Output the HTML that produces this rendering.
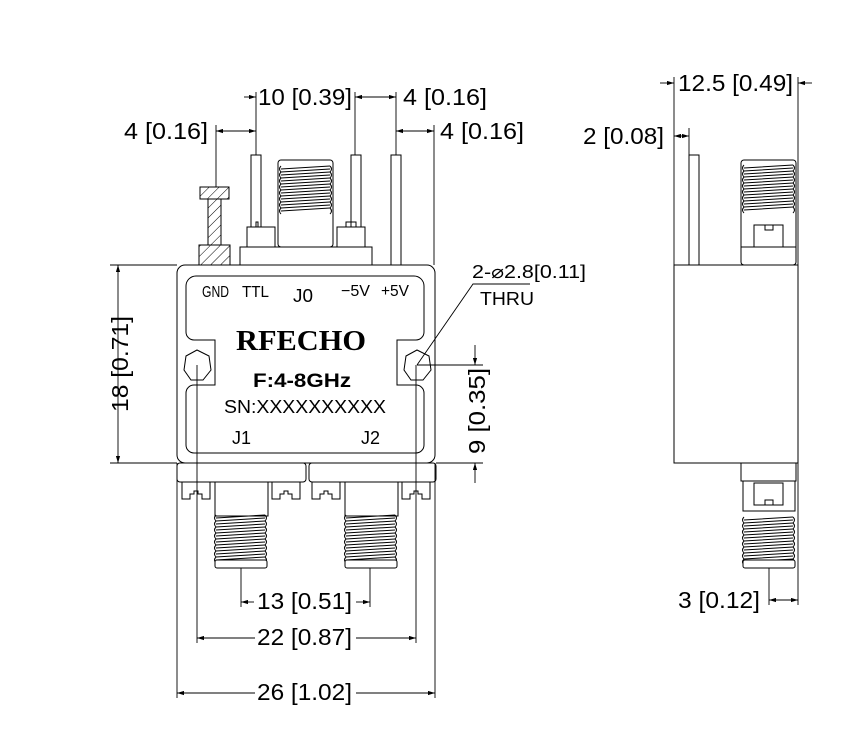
<!DOCTYPE html>
<html><head><meta charset="utf-8"><style>
html,body{margin:0;padding:0;background:#fff;}
svg{display:block;}
</style></head><body>
<svg width="868" height="753" viewBox="0 0 868 753" xmlns="http://www.w3.org/2000/svg" font-family="Liberation Sans, sans-serif">
<defs>
<pattern id="h" width="7" height="7" patternUnits="userSpaceOnUse" patternTransform="rotate(45)">
<line x1="0" y1="0" x2="0" y2="7" stroke="#000" stroke-width="1"/>
</pattern>
<marker id="a" viewBox="0 0 10 6" refX="10" refY="3" markerWidth="8" markerHeight="5" orient="auto-start-reverse"><path d="M0,0L10,3L0,6z" fill="#000"/></marker>
<g id="thr" fill="none" stroke="#000" stroke-width="1">
<path d="M3,5 L52,2 M3,8 L52,5 M3,11 L52,8 M3,14 L52,11 M3,17 L52,14 M3,20 L52,17 M3,23 L52,20 M3,26 L52,23 M3,29 L52,26 M3,32 L52,29 M3,35 L52,32 M3,38 L52,35 M3,41 L52,38 M3,44 L52,41 M3,47 L52,44"/>
<path d="M3,2 q-3,3 0,6 q-3,3 0,6 q-3,3 0,6 q-3,3 0,6 q-3,3 0,6 q-3,3 0,6 q-3,3 0,6 q-3,3 0,6"/>
<path d="M52,2 q3,3 0,6 q3,3 0,6 q3,3 0,6 q3,3 0,6 q3,3 0,6 q3,3 0,6 q3,3 0,6 q3,3 0,6"/>
</g>
<g id="clip" fill="#fff" stroke="#000" stroke-width="1">
<path d="M0,0 h28 v17 h-8 v-5 h-4 v-3 h-4 v3 h-4 v5 h-8 z"/>
</g>
</defs>

<g fill="none" stroke="#000" stroke-width="1">
<rect x="200" y="187" width="29" height="12" fill="url(#h)"/>
<rect x="208" y="199" width="13" height="46" fill="url(#h)"/>
<rect x="199" y="245" width="31" height="20" fill="url(#h)"/>
<rect x="251" y="155" width="10" height="72" fill="#fff"/>
<rect x="351" y="155" width="10" height="72" fill="#fff"/>
<rect x="391" y="155" width="10" height="110" fill="#fff"/>
<rect x="240" y="247" width="132" height="18" fill="#fff"/>
<rect x="247" y="227" width="28" height="20" fill="#fff"/>
<path d="M256,227 v-5 h2 v5"/>
<rect x="337" y="227" width="28" height="20" fill="#fff"/>
<path d="M346,227 v-5 h10 v5"/>
<rect x="278" y="160" width="55" height="87" rx="3" fill="#fff"/>
<use href="#thr" x="278" y="164"/>

<rect x="177" y="265" width="258" height="198" rx="8" fill="#fff"/>
<path d="M196,276 H414 a10,10 0 0 1 10,10 V332 a8,8 0 0 1 -8,8 H397 V385 H416 a8,8 0 0 1 8,8 V445 a8,8 0 0 1 -8,8 H194 a8,8 0 0 1 -8,-8 V393 a8,8 0 0 1 8,-8 H215 V340 H194 a8,8 0 0 1 -8,-8 V286 a10,10 0 0 1 10,-10 z"/>
<polygon points="197,350 209,356 211,370 203,380 191,380 184,370 186,356"/>
<polygon points="417,350 429,356 431,370 423,380 411,380 404,370 406,356"/>

<rect x="177" y="463" width="129" height="19" rx="3"/>
<rect x="309" y="463" width="127" height="19" rx="3"/>
<use href="#clip" x="182" y="482"/>
<use href="#clip" x="272" y="482"/>
<use href="#clip" x="312" y="482"/>
<use href="#clip" x="402" y="482"/>
<rect x="215" y="482" width="53" height="34"/>
<rect x="345" y="482" width="53" height="34"/>
<use href="#thr" x="213" y="513"/>
<use href="#thr" x="343" y="513"/>
<rect x="215" y="560" width="52" height="8" rx="2" fill="#fff"/>
<rect x="345" y="560" width="52" height="8" rx="2" fill="#fff"/>

<rect x="689" y="155" width="10" height="110"/>
<rect x="741" y="160" width="55" height="105" rx="3" fill="#fff"/>
<use href="#thr" x="741" y="163"/>
<line x1="741" y1="247" x2="796" y2="247"/>
<rect x="754" y="225" width="29" height="22"/>
<path d="M765,225 v5 h8 v-5"/>
<rect x="674" y="265" width="124" height="198" fill="#fff"/>
<rect x="741" y="463" width="55" height="18"/>
<rect x="743" y="481" width="52" height="30"/>
<rect x="754" y="483" width="29" height="22"/>
<path d="M765,505 v-5 h8 v5"/>
<use href="#thr" x="741" y="515"/>
<rect x="743" y="560" width="52" height="8" rx="2" fill="#fff"/>

<g stroke-width="0.9">
<line x1="216" y1="125" x2="216" y2="187"/>
<line x1="256" y1="92" x2="256" y2="155"/>
<line x1="355" y1="92" x2="355" y2="155"/>
<line x1="396" y1="92" x2="396" y2="155"/>
<line x1="434" y1="125" x2="434" y2="265"/>
<line x1="244" y1="97" x2="256" y2="97" marker-end="url(#a)"/>
<line x1="355" y1="97" x2="396" y2="97" marker-start="url(#a)" marker-end="url(#a)"/>
<line x1="216" y1="131" x2="256" y2="131" marker-start="url(#a)" marker-end="url(#a)"/>
<line x1="396" y1="131" x2="434" y2="131" marker-start="url(#a)" marker-end="url(#a)"/>
<line x1="110" y1="265" x2="177" y2="265"/>
<line x1="110" y1="463" x2="177" y2="463"/>
<line x1="118" y1="265" x2="118" y2="463" marker-start="url(#a)" marker-end="url(#a)"/>
<line x1="417" y1="365" x2="483" y2="365"/>
<line x1="436" y1="463" x2="483" y2="463"/>
<line x1="475" y1="345" x2="475" y2="365" marker-end="url(#a)"/>
<line x1="475" y1="483" x2="475" y2="463" marker-end="url(#a)"/>
<polyline points="417,365 473,284 530,284"/>
<line x1="241" y1="568" x2="241" y2="607"/>
<line x1="370" y1="568" x2="370" y2="607"/>
<line x1="197" y1="365" x2="197" y2="643"/>
<line x1="416" y1="365" x2="416" y2="643"/>
<line x1="177" y1="463" x2="177" y2="698"/>
<line x1="435" y1="463" x2="435" y2="698"/>
<line x1="241" y1="602" x2="254" y2="602" marker-start="url(#a)"/>
<line x1="356" y1="602" x2="370" y2="602" marker-end="url(#a)"/>
<line x1="197" y1="638" x2="255" y2="638" marker-start="url(#a)"/>
<line x1="356" y1="638" x2="416" y2="638" marker-end="url(#a)"/>
<line x1="177" y1="693" x2="255" y2="693" marker-start="url(#a)"/>
<line x1="356" y1="693" x2="435" y2="693" marker-end="url(#a)"/>
<line x1="674" y1="77" x2="674" y2="265"/>
<line x1="798" y1="77" x2="798" y2="265"/>
<line x1="689" y1="128" x2="689" y2="155"/>
<line x1="660" y1="83" x2="674" y2="83" marker-end="url(#a)"/>
<line x1="812" y1="83" x2="798" y2="83" marker-end="url(#a)"/>
<line x1="674" y1="136" x2="689" y2="136" marker-start="url(#a)" marker-end="url(#a)"/>
<line x1="798" y1="463" x2="798" y2="605"/>
<line x1="769" y1="568" x2="769" y2="605"/>
<line x1="769" y1="600" x2="798" y2="600" marker-start="url(#a)" marker-end="url(#a)"/>
</g>
</g>

<g font-size="23" fill="#000">
<text x="258" y="105" textLength="94" lengthAdjust="spacingAndGlyphs">10 [0.39]</text>
<text x="403" y="105" textLength="84" lengthAdjust="spacingAndGlyphs">4 [0.16]</text>
<text x="124" y="139" textLength="84" lengthAdjust="spacingAndGlyphs">4 [0.16]</text>
<text x="440" y="139" textLength="84" lengthAdjust="spacingAndGlyphs">4 [0.16]</text>
<text x="257" y="609" textLength="95" lengthAdjust="spacingAndGlyphs">13 [0.51]</text>
<text x="257" y="645" textLength="95" lengthAdjust="spacingAndGlyphs">22 [0.87]</text>
<text x="257" y="700" textLength="95" lengthAdjust="spacingAndGlyphs">26 [1.02]</text>
<text x="678" y="91" textLength="115" lengthAdjust="spacingAndGlyphs">12.5 [0.49]</text>
<text x="583" y="144" textLength="81" lengthAdjust="spacingAndGlyphs">2 [0.08]</text>
<text x="678" y="608" textLength="82" lengthAdjust="spacingAndGlyphs">3 [0.12]</text>
<text transform="translate(128,364) rotate(-90)" text-anchor="middle" textLength="96" lengthAdjust="spacingAndGlyphs">18 [0.71]</text>
<text transform="translate(485,411) rotate(-90)" text-anchor="middle" textLength="86" lengthAdjust="spacingAndGlyphs">9 [0.35]</text>
</g>
<text x="472" y="278" font-size="18" textLength="114" lengthAdjust="spacingAndGlyphs">2-⌀2.8[0.11]</text>
<text x="480" y="305" font-size="18" textLength="54" lengthAdjust="spacingAndGlyphs">THRU</text>
<g font-family="Liberation Sans Narrow, Liberation Sans, sans-serif" font-size="16">
<text x="202" y="297" textLength="27" lengthAdjust="spacingAndGlyphs">GND</text>
<text x="242" y="297" textLength="27" lengthAdjust="spacingAndGlyphs">TTL</text>
<text x="293" y="302" font-size="18" textLength="20" lengthAdjust="spacingAndGlyphs">J0</text>
<text x="341" y="296" textLength="29" lengthAdjust="spacingAndGlyphs">−5V</text>
<text x="381" y="296" textLength="28" lengthAdjust="spacingAndGlyphs">+5V</text>
</g>
<text x="236" y="350" font-family="Liberation Serif, serif" font-weight="bold" font-size="29" textLength="130" lengthAdjust="spacingAndGlyphs">RFECHO</text>
<text x="253" y="387" font-weight="bold" font-size="19" textLength="98" lengthAdjust="spacingAndGlyphs">F:4-8GHz</text>
<text x="224" y="413" font-size="18" textLength="162" lengthAdjust="spacingAndGlyphs">SN:XXXXXXXXXX</text>
<text x="232" y="444" font-size="18">J1</text>
<text x="361" y="444" font-size="18">J2</text>
</svg>
</body></html>
